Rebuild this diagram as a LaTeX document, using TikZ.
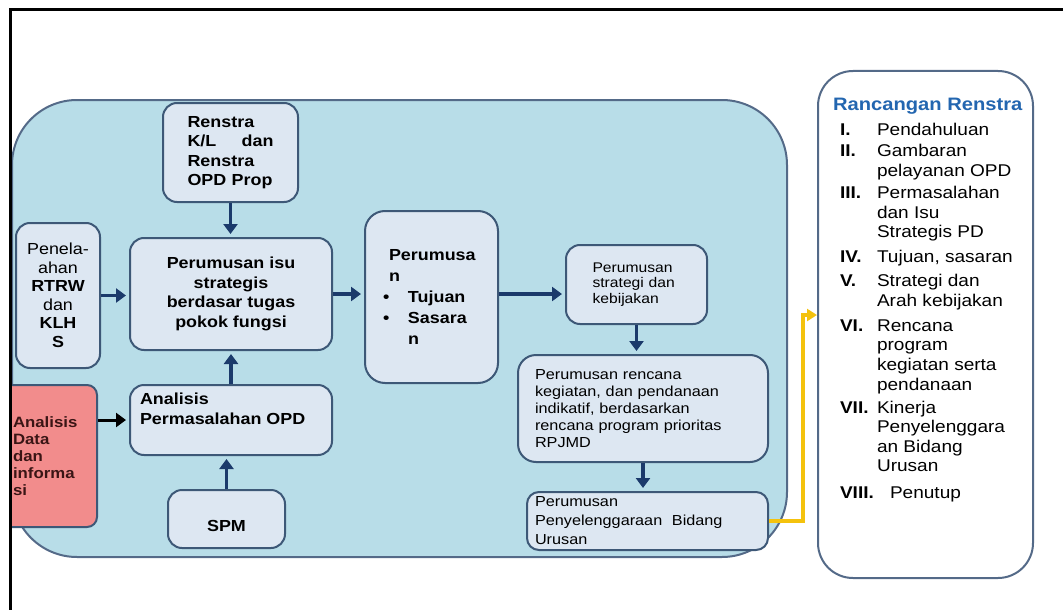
\documentclass[tikz,border=0pt]{standalone}
\usepackage{fontspec}
\setmainfont{Liberation Sans}[FakeStretch=1.12]
\usepackage{xcolor}
\usepackage{tikz}
\usetikzlibrary{arrows.meta,positioning,calc}
\definecolor{latarbiru}{HTML}{B8DDE8}
\definecolor{kotakisi}{HTML}{DDE7F2}
\definecolor{garis}{HTML}{3D5877}
\definecolor{garisabu}{HTML}{546A88}
\definecolor{panahbiru}{HTML}{1B3A6B}
\definecolor{merahmuda}{HTML}{F28C8C}
\definecolor{teksmerah}{HTML}{3A1515}
\definecolor{kuning}{HTML}{F4C20D}
\definecolor{judulbiru}{HTML}{2366B0}
\newcommand{\ukuran}[2]{\fontsize{#1}{#2}\selectfont}
\newcommand{\nomor}[1]{\hspace*{9.5pt}\makebox[37pt][l]{\bfseries #1}}
\newcommand{\lanjut}{\hspace*{46.5pt}}

\begin{document}
\begin{tikzpicture}[
    x=1pt,y=-1pt,
    kotak/.style  = {draw=garis, fill=kotakisi, line width=2pt,
                     rounded corners=14pt, inner sep=0pt},
    tulis/.style  = {font=\bfseries\ukuran{16}{19.5}},
    panah/.style  = {-{Triangle[length=10pt,width=14pt]}, draw=panahbiru,
                     line width=3.8pt, shorten >=3pt},
    tautan/.style = {-{Triangle[length=10pt,width=12pt]}, draw=kuning,
                     line width=3.5pt},
  ]
  \useasboundingbox (0,0) rectangle (1063,610);

  \begin{scope}
  \clip (10,10) rectangle (1063,610);

  % ── Latar biru ──────────────────────────────────────────────────────────
  \draw[draw=garisabu, fill=latarbiru, line width=2pt, rounded corners=65pt]
       (12,100) rectangle (787,557);

  % ── Kotak-kotak proses ──────────────────────────────────────────────────
  \node[kotak, tulis, minimum width=135pt, minimum height=99pt,
        text width=86pt, align=left] (renstra) at (230.5,152.5)
       {Renstra\\K/L\hfill dan\\Renstra\\OPD Prop};

  \node[kotak, minimum width=84pt, minimum height=145pt, align=center,
        font=\ukuran{16}{18.5}] (telaah) at (58,295.5)
       {Penela-\\ahan\\\textbf{RTRW}\\dan\\\textbf{KLH}\\\textbf{S}};

  \node[kotak, tulis, minimum width=202pt, minimum height=112pt,
        align=center] (isu) at (231,294)
       {Perumusan isu\\strategis\\berdasar tugas\\pokok fungsi};

  \node[kotak, tulis, minimum width=202pt, minimum height=70pt] (analisis)
       at (231,420)
       {\parbox[c][60pt][t]{182pt}{\raggedright\vspace*{3pt}%
        Analisis\\Permasalahan OPD}};

  \node[kotak, fill=merahmuda, rounded corners=10pt, minimum width=98pt,
        minimum height=142pt, text width=70pt, align=left,
        text=teksmerah, font=\bfseries\ukuran{15}{17}] (data) at (48,456)
       {Analisis\\Data\\dan\\informa\\si};

  \node[kotak, tulis, minimum width=117pt, minimum height=58pt] (spm)
       at (226.5,519) {\raisebox{-7pt}[11.5pt][0pt]{SPM}};

  \node[kotak, rounded corners=20pt, minimum width=133pt,
        minimum height=172pt, text width=97pt, align=left,
        font=\bfseries\ukuran{16}{21}] (tujuan) at (431.5,297)
       {\hspace*{6pt}Perumusa\\\hspace*{6pt}n\\
        \makebox[25pt][l]{•}Tujuan\\\makebox[25pt][l]{•}Sasara\\
        \hspace*{25pt}n};

  \node[kotak, minimum width=141pt, minimum height=79pt, text width=88pt,
        align=left, font=\ukuran{14}{15.5}] (strategi) at (636.5,284.5)
       {Perumusan\\strategi dan\\kebijakan};

  \node[kotak, rounded corners=18pt, minimum width=250pt,
        minimum height=107pt, text width=216pt, align=left,
        font=\ukuran{14.5}{17}] (rencana) at (643,408.5)
       {Perumusan rencana\\kegiatan, dan pendanaan\\indikatif, berdasarkan\\
        rencana program prioritas\\RPJMD};

  \node[kotak, rounded corners=12pt, minimum width=241pt,
        minimum height=58pt, text width=225pt, align=left,
        font=\ukuran{14.5}{19}] (selenggara) at (647.5,521)
       {Perumusan\\Penyelenggaraan\ \ Bidang\\Urusan};

  % ── Rancangan Renstra ───────────────────────────────────────────────────
  \node[draw=garisabu, fill=white, line width=2pt, rounded corners=35pt,
        minimum width=215pt, minimum height=507pt, inner sep=0pt,
        font=\ukuran{17}{19.6}] (rancangan) at (925.5,324.5)
       {\parbox[c][480pt][t]{190pt}{\raggedright\vspace*{14pt}%
        \hspace*{2.5pt}\makebox[0pt][l]{\color{judulbiru}\bfseries\ukuran{18}{19.6}Rancangan Renstra}\\[5.4pt]
        \nomor{I.}Pendahuluan\\[1.4pt]
        \nomor{II.}Gambaran\\
        \lanjut pelayanan OPD\\[2.4pt]
        \nomor{III.}Permasalahan\\
        \lanjut dan Isu\\
        \lanjut Strategis PD\\[5.4pt]
        \nomor{IV.}Tujuan, sasaran\\[4.4pt]
        \nomor{V.}Strategi dan\\
        \lanjut Arah kebijakan\\[5.4pt]
        \nomor{VI.}Rencana\\
        \lanjut program\\
        \lanjut kegiatan serta\\
        \lanjut pendanaan\\[3.4pt]
        \nomor{VII.}Kinerja\\
        \lanjut Penyelenggara\\
        \lanjut an Bidang\\
        \lanjut Urusan\\[7.4pt]
        \hspace*{9.5pt}\makebox[50pt][l]{\bfseries VIII.}Penutup}};

  % ── Panah ───────────────────────────────────────────────────────────────
  \draw[panah] (renstra.south) -- (renstra.south |- isu.north);
  \draw[panah] (telaah.east) -- (telaah.east -| isu.west);
  \draw[panah] (isu.east) -- (isu.east -| tujuan.west);
  \draw[panah] (tujuan.east |- isu.east) -- (strategi.west |- isu.east);
  \draw[panah] (strategi.south) -- (strategi.south |- rencana.north);
  \draw[panah] (rencana.south) -- (rencana.south |- selenggara.north);
  \draw[panah] (analisis.north) -- (isu.south);
  \draw[panah] (spm.north) -- (spm.north |- analisis.south);
  \draw[panah, draw=black, line width=3pt] (data.east |- analisis.west)
       -- (analisis.west);

  \coordinate (belok) at (803,315);
  \draw[tautan] (selenggara.east) -| (belok) -- (belok -| rancangan.west);
  \end{scope}

  % ── Bingkai ─────────────────────────────────────────────────────────────
  \draw[line width=3pt] (10,610) -- (10,10) -- (1063,10);
\end{tikzpicture}
\end{document}
